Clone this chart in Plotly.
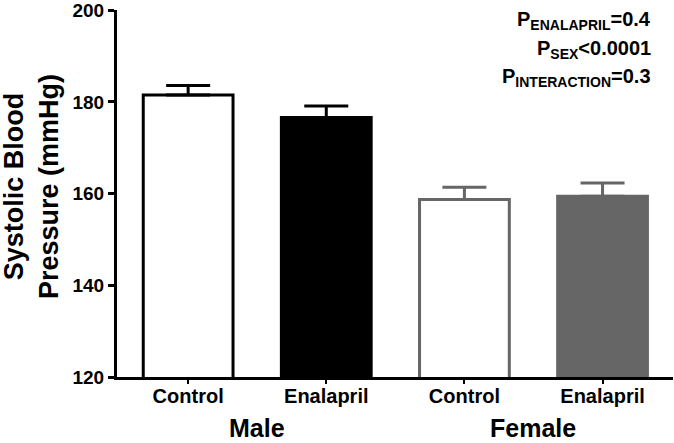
import plotly.graph_objects as go

tick_labels = ["Control", "Enalapril", "Control", "Enalapril"]
groups = ["Male", "Female"]
means = [181.5, 176.6, 158.7, 159.4]
sem_upper = [2.1, 2.5, 2.7, 2.9]
fill_colors = ["white", "black", "white", "#666666"]
line_colors = ["black", "black", "#666666", "#666666"]
p_texts = ["<b>P<sub>ENALAPRIL</sub>=0.4</b>", "<b>P<sub>SEX</sub><0.0001</b>",
           "<b>P<sub>INTERACTION</sub>=0.3</b>"]
y_ticks = [120, 140, 160, 180, 200]

FONT = "Liberation Sans, Arial, sans-serif"

fig = go.Figure()
for i in range(4):
    fig.add_trace(go.Bar(
        x=[i], y=[means[i]],
        width=0.65,
        marker=dict(color=fill_colors[i], line=dict(color=line_colors[i], width=3)),
        error_y=dict(type="data", symmetric=False, array=[sem_upper[i]], arrayminus=[0],
                     color=line_colors[i], thickness=3, width=22),
        showlegend=False,
    ))

annotations = []
for j, g in enumerate(groups):
    annotations.append(dict(x=0.5 + 2 * j, xref="x", y=-0.14, yref="paper",
                            text="<b>%s</b>" % g, showarrow=False,
                            font=dict(family=FONT, size=25, color="black"),
                            xanchor="center", yanchor="middle"))
p_y = [0.972, 0.893, 0.815]
for t, yy in zip(p_texts, p_y):
    annotations.append(dict(x=(653 - 117) / 556, xref="paper", y=yy, yref="paper",
                            text=t, showarrow=False,
                            font=dict(family=FONT, size=20, color="black"),
                            xanchor="right", yanchor="middle"))
annotations.append(dict(x=-0.155, xref="paper", y=0.52, yref="paper",
                        text="<b>Systolic Blood<br>Pressure (mmHg)</b>", textangle=-90,
                        showarrow=False, font=dict(family=FONT, size=27, color="black"),
                        xanchor="center", yanchor="middle"))

fig.update_layout(
    width=674, height=443,
    margin=dict(l=117, r=1, t=10, b=66),
    paper_bgcolor="white", plot_bgcolor="white",
    annotations=annotations,
    font=dict(family=FONT, color="black"),
    xaxis=dict(range=[-0.515, 3.51], tickmode="array", tickvals=[0, 1, 2, 3],
               ticktext=["<b>%s</b>" % t for t in tick_labels],
               showline=True, linecolor="black", linewidth=3, ticks="outside", ticklen=4,
               tickwidth=2, tickcolor="black", showgrid=False, zeroline=False,
               ticklabelstandoff=-5,
               tickfont=dict(family=FONT, size=20, color="black")),
    yaxis=dict(range=[120, 200.05], tickmode="array", tickvals=y_ticks,
               ticktext=["<b>%d</b>" % v for v in y_ticks], ticklabeloverflow="allow",
               showline=True, linecolor="black", linewidth=3, ticks="outside", ticklen=6,
               tickwidth=3, tickcolor="black", showgrid=False, zeroline=False,
               tickfont=dict(family=FONT, size=19, color="black")),
)
fig.write_html("out.html", config={"displayModeBar": False},
               post_script="document.body.style.margin='0';document.body.style.overflow='hidden';")
